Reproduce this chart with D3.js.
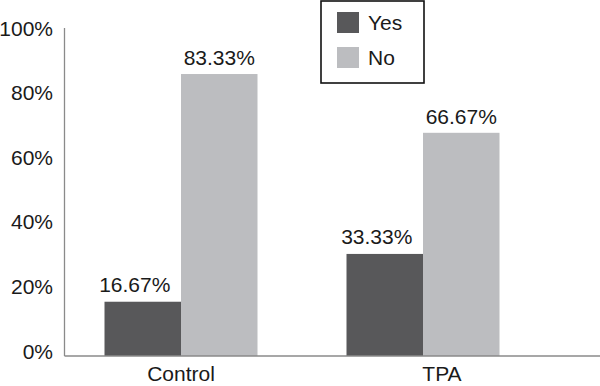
<!DOCTYPE html>
<html lang="en">
<head>
    <meta charset="UTF-8">
    <title>Yes / No by group</title>
    <script src="https://d3js.org/d3.v7.min.js"></script>
    <style>
        body { margin: 0; background: #fff; }
        svg text { font-family: "Liberation Sans", Arial, sans-serif; fill: #1a1a1a; }
    </style>
</head>
<body>
    <div id="chart"></div>
    <script>
        // values
        const groups = ["Control", "TPA"];
        const series = ["Yes", "No"];
        // bar heights as drawn (in %)
        const yesValues = [16.8, 31.6];
        const noValues = [87.3, 69.1];
        // printed labels
        const yesLabels = ["16.67%", "33.33%"];
        const noLabels = ["83.33%", "66.67%"];
        const yTicks = [0, 20, 40, 60, 80, 100];

        const colors = { Yes: "#58585a", No: "#bcbdc0" };

        const width = 600;
        const height = 386;

        const svg = d3.select("#chart")
            .append("svg")
            .attr("width", width)
            .attr("height", height);

        const y = d3.scaleLinear()
            .domain([0, 100])
            .range([356, 33]);

        const x0 = d3.scaleBand()
            .domain(groups)
            .range([60, 544])
            .padding(0);

        const x1 = d3.scaleBand()
            .domain(series)
            .range([44.5, 197.5])
            .padding(0);

        const rows = groups.map((g, i) => ({
            group: g,
            values: [
                { key: "Yes", value: yesValues[i], label: yesLabels[i] },
                { key: "No", value: noValues[i], label: noLabels[i] }
            ]
        }));

        // y axis: labels only, no ticks
        const yAxis = d3.axisLeft(y)
            .tickValues(yTicks)
            .tickSize(0)
            .tickPadding(0)
            .tickFormat(d => d + "%");

        const gy = svg.append("g")
            .attr("transform", "translate(53,0)")
            .call(yAxis);
        gy.select(".domain").remove();
        gy.selectAll("text")
            .attr("dy", null)
            .attr("y", 2)
            .style("font-size", "21px");

        // bars
        const grp = svg.selectAll(".grp")
            .data(rows)
            .enter()
            .append("g")
            .attr("class", "grp")
            .attr("transform", d => `translate(${x0(d.group)},0)`);

        grp.selectAll("rect")
            .data(d => d.values)
            .enter()
            .append("rect")
            .attr("x", d => x1(d.key))
            .attr("y", d => y(d.value))
            .attr("width", x1.bandwidth())
            .attr("height", d => y(0) - y(d.value))
            .attr("fill", d => colors[d.key]);

        // value labels (the Yes ones sit a bit left of centre in the original)
        const nudge = { Yes: -8, No: 0 };
        const gap = { Yes: 10, No: 9 };
        grp.selectAll(".val")
            .data(d => d.values)
            .enter()
            .append("text")
            .attr("class", "val")
            .attr("x", d => x1(d.key) + x1.bandwidth() / 2 + nudge[d.key])
            .attr("y", d => y(d.value) - gap[d.key])
            .attr("text-anchor", "middle")
            .style("font-size", "21px")
            .text(d => d.label);

        // axis lines
        svg.append("line")
            .attr("x1", 64.5).attr("x2", 64.5)
            .attr("y1", 28).attr("y2", y(0))
            .attr("stroke", "#8a8a8a")
            .attr("stroke-width", 1.3);

        svg.append("line")
            .attr("x1", 64.5).attr("x2", 600)
            .attr("y1", y(0)).attr("y2", y(0))
            .attr("stroke", "#8a8a8a")
            .attr("stroke-width", 1.3);

        // category labels
        const catShift = { Control: 0, TPA: 19 };
        svg.selectAll(".cat")
            .data(groups)
            .enter()
            .append("text")
            .attr("class", "cat")
            .attr("x", d => x0(d) + x0.bandwidth() / 2 + catShift[d])
            .attr("y", 381)
            .attr("text-anchor", "middle")
            .style("font-size", "21px")
            .text(d => d);

        // legend
        const legend = svg.append("g")
            .attr("transform", "translate(321,1)");

        legend.append("rect")
            .attr("width", 103)
            .attr("height", 82)
            .attr("fill", "#fff")
            .attr("stroke", "#111")
            .attr("stroke-width", 1.6);

        const items = legend.selectAll(".item")
            .data(series)
            .enter()
            .append("g")
            .attr("class", "item")
            .attr("transform", (d, i) => `translate(16, ${11 + i * 35})`);

        items.append("rect")
            .attr("width", 22)
            .attr("height", 21)
            .attr("fill", d => colors[d]);

        items.append("text")
            .attr("x", 31)
            .attr("y", 18)
            .style("font-size", "21px")
            .text(d => d);
    </script>
</body>
</html>
